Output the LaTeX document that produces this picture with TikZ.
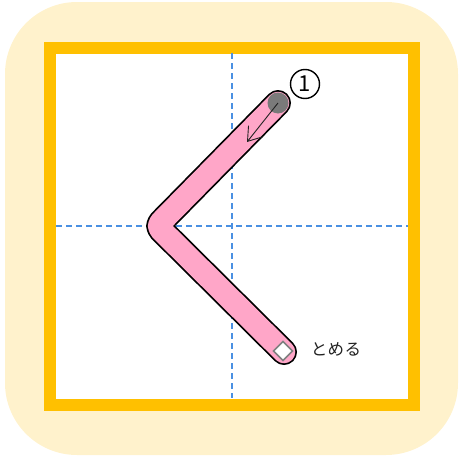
\documentclass[tikz,border=0pt]{standalone}
\usepackage{fontspec}
\newfontfamily\jp{Noto Sans CJK JP}
\usetikzlibrary{arrows.meta}
\definecolor{cream}{HTML}{FFF2CC}
\definecolor{frameorange}{HTML}{FFC000}
\definecolor{guideblue}{HTML}{4A90E2}
\definecolor{strokepink}{HTML}{FFA6C8}
\definecolor{startgray}{HTML}{7A7A7A}
\definecolor{textgray}{HTML}{222222}
\tikzset{
  bg/.style={fill=cream, rounded corners=72pt},
  frame/.style={draw=frameorange, fill=white, line width=12pt},
  guide/.style={draw=guideblue, line width=1.2pt, dash pattern=on 6pt off 4pt},
  strokeout/.style={draw=black, line width=26pt, line cap=round, line join=round, rounded corners=5pt},
  strokein/.style={draw=strokepink, line width=22.5pt, line cap=round, line join=round, rounded corners=5pt},
  dirarrow/.style={draw=textgray, line width=0.9pt, -{Straight Barb[length=13pt,width=18pt,line width=0.9pt]}},
  endmark/.style={draw=gray, fill=white, line width=1.5pt, minimum size=13.5pt, inner sep=0pt, rotate=45},
  numcircle/.style={circle, draw=black, line width=1.4pt, minimum size=29pt, inner sep=0pt, font=\jp\fontsize{22pt}{22pt}\selectfont},
  label/.style={text=textgray, font=\jp\fontsize{16.5pt}{16.5pt}\selectfont\addfontfeature{LetterSpace=3}}
}
\begin{document}
\begin{tikzpicture}[x=1pt,y=-1pt]
\useasboundingbox (0,0) rectangle (461,458);
\fill[bg] (5,2) rectangle (458,455);
\draw[frame] (50,47.5) rectangle (413.5,404.5);
\coordinate (gt) at (232,53);
\coordinate (gb) at (232,398);
\coordinate (gl) at (56,226);
\coordinate (gr) at (408,226);
\draw[guide] (gt) -- (gb);
\draw[guide] (gl) -- (gr);
\coordinate (s) at (278,103);
\coordinate (v) at (157,226);
\coordinate (e) at (284,352);
\draw[strokeout] (s) -- (v) -- (e);
\draw[strokein] (s) -- (v) -- (e);
\fill[startgray] (s) circle (10.5);
\coordinate (t) at (247,142);
\draw[dirarrow] (s) -- (t);
\node[endmark] (d) at (283,351) {};
\node[numcircle] (n) at (305,84) {1};
\node[label] (lab) at (336,349) {とめる};
\end{tikzpicture}
\end{document}
